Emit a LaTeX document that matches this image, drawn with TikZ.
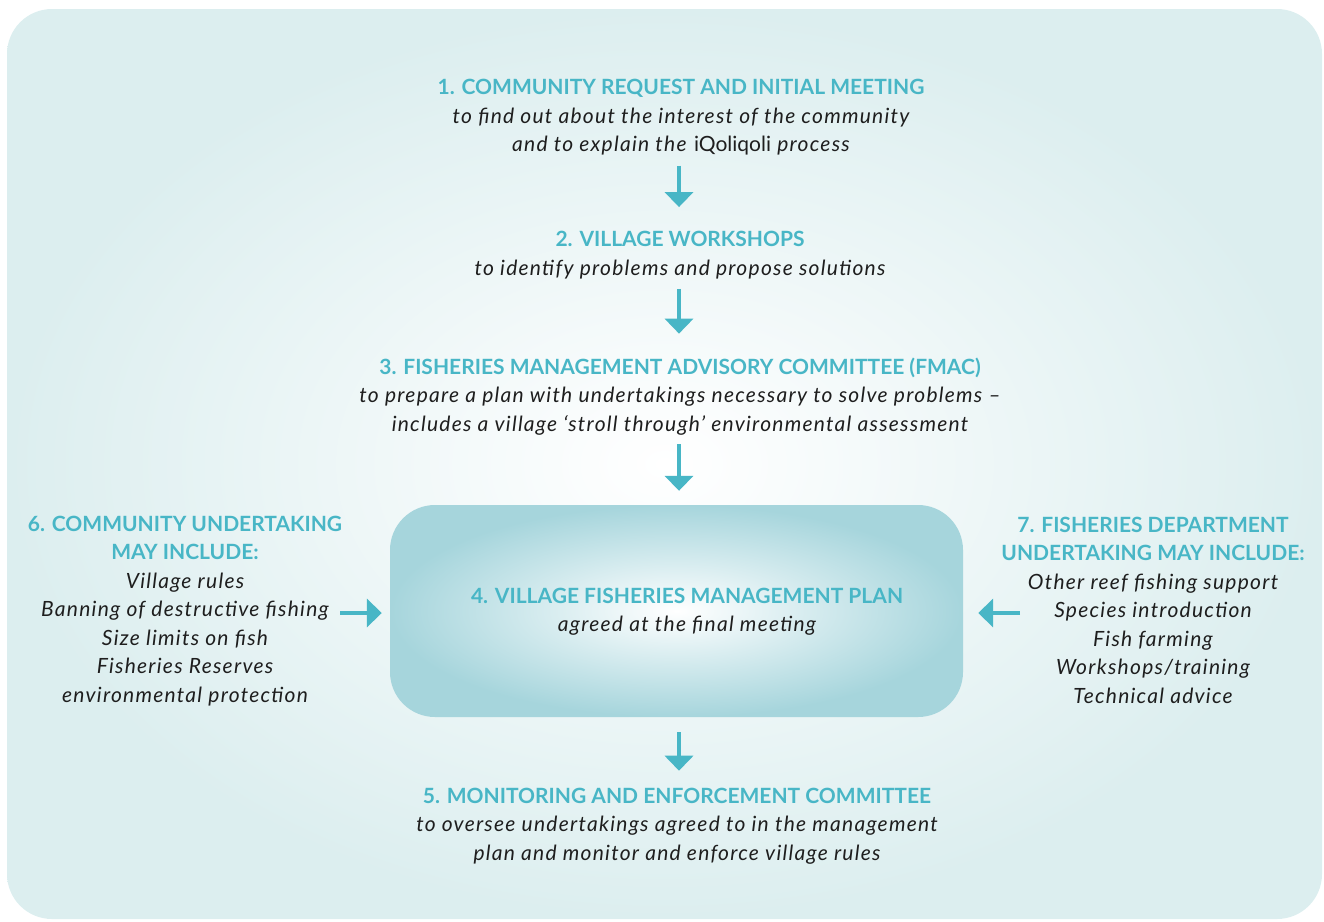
\documentclass[tikz,border=0pt]{standalone}
\usepackage{fontspec}
\setmainfont{Lato}[ItalicFeatures={LetterSpace=6}]
\usepackage{tikz}
\usetikzlibrary{
  positioning,
  calc,
  arrows.meta
}
\definecolor{myTeal}{HTML}{48B6C6}
\definecolor{myBg}{HTML}{DCEEEF}
\definecolor{myBox}{HTML}{A6D5DC}
\definecolor{myText}{HTML}{1E1E1E}

\tikzset{
  stepText/.style={align=center, inner sep=0pt, text=myText,
    font=\fontsize{21}{28.5}\selectfont},
  flow/.style={myTeal, line width=4.5pt, -{Triangle[width=28pt,length=15pt]}},
}
\newcommand{\hd}[1]{{\bfseries\color{myTeal}#1}}

\begin{document}
\begin{tikzpicture}[x=1pt, y=-1pt]
      \useasboundingbox (0,0) rectangle (1324,921);

      % 背景の角丸長方形
      \shade[rounded corners=45pt, inner color=white, outer color=myBg] (7,9) rectangle (1322,919);

      % 管理計画の箱
      \node[shade, inner color=white, outer color=myBox, rounded corners=45pt,
        minimum width=573pt, minimum height=212pt] (P) at (676.5,611) {};

      % 1. 最初の会合
      \node[stepText] (S1) at (681,117.5) {\hd{1. COMMUNITY REQUEST AND INITIAL MEETING}\\
        \itshape to find out about the interest of the community\\
        \itshape and to explain the \textup{iQoliqoli} process};
      % 2. 村のワークショップ
      \node[stepText] (S2) at (680,255) {\hd{2. VILLAGE WORKSHOPS}\\
        \itshape to identify problems and propose solutions};
      % 3. FMAC
      \node[stepText] (S3) at (680,396.5) {\hd{3. FISHERIES MANAGEMENT ADVISORY COMMITTEE (FMAC)}\\
        \itshape to prepare a plan with undertakings necessary to solve problems --\\
        \itshape includes a village ‘stroll through’ environmental assessment};
      % 4. 管理計画
      \node[stepText] (S4) at (687,611.5) {\hd{4. VILLAGE FISHERIES MANAGEMENT PLAN}\\
        \itshape agreed at the final meeting};
      % 5. 監視委員会
      \node[stepText] (S5) at (677,826) {\hd{5. MONITORING AND ENFORCEMENT COMMITTEE}\\
        \itshape to oversee undertakings agreed to in the management\\
        \itshape plan and monitor and enforce village rules};
      % 6. 地域の取り組み
      \node[stepText] (S6) at (185,611) {\hd{6. COMMUNITY UNDERTAKING}\\
        \hd{MAY INCLUDE:}\\
        \itshape Village rules\\
        \itshape Banning of destructive fishing\\
        \itshape Size limits on fish\\
        \itshape Fisheries Reserves\\
        \itshape environmental protection};
      % 7. 水産局の取り組み
      \node[stepText] (S7) at (1153,610) {\hd{7. FISHERIES DEPARTMENT}\\
        \hd{UNDERTAKING MAY INCLUDE:}\\
        \itshape Other reef fishing support\\
        \itshape Species introduction\\
        \itshape Fish farming\\
        \itshape Workshops/training\\
        \itshape Technical advice};

      % 横矢印の始点
      \coordinate (L) at (340,613);
      \coordinate (R) at (1020,613);

      % 縦の矢印
      \draw[flow, shorten <=10pt, shorten >=24pt] (S1.south -| 679,0) -- (S2.north -| 679,0);
      \draw[flow, shorten <=10pt, shorten >=24pt] (S2.south -| 679,0) -- (S3.north -| 679,0);
      \draw[flow, shorten <=9pt, shorten >=14pt] (S3.south -| 679,0) -- (P.north -| 679,0);
      \draw[flow, shorten <=15pt, shorten >=17pt] (P.south -| 679,0) -- (S5.north -| 679,0);

      % 横の矢印
      \draw[flow, shorten >=8pt] (L) -- (P.west |- L);
      \draw[flow, shorten >=15pt] (R) -- (P.east |- R);
    \end{tikzpicture}
\end{document}
